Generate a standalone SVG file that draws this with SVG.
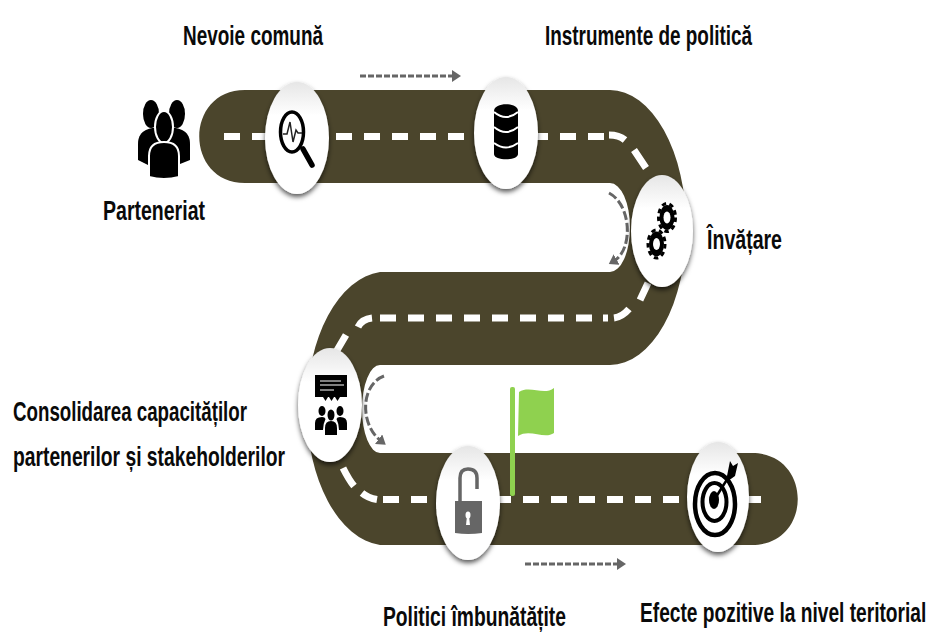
<svg xmlns="http://www.w3.org/2000/svg" width="929" height="633" viewBox="0 0 929 633">
<style>
.t{font-family:"Liberation Sans",Arial,sans-serif;font-weight:700;font-size:27px;fill:#0a0a0a}
.d{fill:none;stroke:#fff;stroke-width:7}
.a{fill:none;stroke:#666;stroke-width:3}
.k{fill:#000}
.b{fill:url(#n);filter:url(#s)}
</style>
<defs>
<linearGradient id="n" x1="0" y1="0" x2="0" y2="1"><stop offset="0" stop-color="#e6e6e6"/><stop offset=".3" stop-color="#fff"/><stop offset="1" stop-color="#fff"/></linearGradient>
<filter id="s" x="-30%" y="-20%" width="160%" height="140%"><feDropShadow dx="0" dy="3" stdDeviation="2.500" flood-color="#000" flood-opacity=".65"/></filter>
<marker id="h" markerWidth="4" markerHeight="4" refX="1" refY="2" orient="auto"><path d="M0 0L3 2L0 4Z" fill="#666"/></marker>
</defs>
<path id="road-surface" fill="#4b452c" d="M245 90H610A76 137 0 0 1 610 365H380A18 44 0 0 0 380 453H752C813 453 813 545 752 545H380A80 137 0 0 1 380 272H610A20 44.500 0 0 0 610 183H245C184 183 184 90 245 90Z"/>
<g id="connectors">
<path class="d" stroke-dasharray="16 12" d="M224 136.500H604"/>
<path class="d" d="M609 135Q619 135 625 140M634 150L646 168M648 283L640 300M629 309Q622 317 614 318M608 318H603"/>
<path class="d" stroke-dasharray="16 12" d="M380 318H592"/>
<path class="d" d="M372 318Q362 319 358 327M346 335L336 352M343 468Q349 480 354 486M362 493Q368 498 377 499.500"/>
<path class="d" stroke-dasharray="16 12" d="M383 499.500H761"/>
<path class="a" stroke-dasharray="6 2" marker-end="url(#h)" d="M360 76H455"/>
<path class="a" stroke-dasharray="6 2" marker-end="url(#h)" d="M525 564H620"/>
<path class="a" stroke-dasharray="9 3" marker-end="url(#h)" d="M609 193C632 205 633 250 614 261"/>
<path class="a" stroke-dasharray="9 3" marker-end="url(#h)" d="M384 376C360 385 360 425 381 441"/>
</g>
<g id="flag"><rect x="510" y="387" width="5" height="109" rx="2" fill="#8fd14f"/><path d="M519 392C530 385 544 396 554 388V433C544 440 530 428 518 436Z" fill="#8fd14f"/></g>
<g id="partnership" class="k">
<ellipse cx="151" cy="114" rx="8" ry="14"/><ellipse cx="177" cy="114" rx="8" ry="14"/>
<path d="M138 160V144C138 132 146 127 164 127C182 127 190 132 190 144V160L175 166H150Z"/>
<ellipse cx="164" cy="127" rx="9" ry="16" stroke="#fff" stroke-width="2"/>
<path d="M149 177V156C149 146 155 142 164 142C173 142 179 146 179 156V177Q164 181 149 177Z" stroke="#fff" stroke-width="2"/>
</g>
<g id="node-nevoie"><ellipse class="b" cx="297" cy="138" rx="32" ry="56"/>
<ellipse cx="292" cy="132" rx="11.500" ry="20" fill="none" stroke="#000" stroke-width="3.500"/>
<path d="M303 149L312 165" stroke="#000" stroke-width="5.500" stroke-linecap="round"/>
<path d="M283 134H287L290 122L293 142L296 130L298 133H302" fill="none" stroke="#222" stroke-width="1.500"/></g>
<g id="node-instrumente"><ellipse class="b" cx="506" cy="133" rx="32" ry="56"/>
<path class="k" d="M494 111C494 102 518 102 518 111V154C518 161 494 161 494 154Z"/>
<path d="M494 112Q506 122 518 112M494 127Q506 137 518 127M494 143Q506 152 518 143" fill="none" stroke="#fff" stroke-width="2"/></g>
<g id="node-invatare"><ellipse class="b" cx="662" cy="231" rx="31" ry="56"/>
<ellipse cx="667" cy="217.500" rx="8.500" ry="14" fill="none" stroke="#000" stroke-width="3" stroke-dasharray="4.500 3.500"/><ellipse cx="667" cy="217.500" rx="7.500" ry="12.500" class="k"/><ellipse cx="667" cy="217.500" rx="3.500" ry="6" fill="#fff"/>
<ellipse cx="656.500" cy="244" rx="8.500" ry="14" fill="none" stroke="#000" stroke-width="3" stroke-dasharray="4.500 3.500"/><ellipse cx="656.500" cy="244" rx="7.500" ry="12.500" class="k"/><ellipse cx="656.500" cy="244" rx="3.500" ry="6" fill="#fff"/></g>
<g id="node-consolidare"><ellipse class="b" cx="330" cy="405" rx="32" ry="57"/>
<rect x="315" y="375" width="32" height="22" class="k"/>
<path d="M320 381H341M320 385H344M320 390H334" stroke="#aaa" stroke-width="1.500"/>
<path class="k" d="M323 397h5l-2.500 4ZM329 397h5l-2.500 4ZM335 397h5l-2.500 4Z"/>
<ellipse cx="322" cy="411" rx="3.500" ry="5" class="k"/><ellipse cx="340" cy="411" rx="3.500" ry="5" class="k"/><ellipse cx="331" cy="415" rx="3.500" ry="5.500" class="k"/>
<path class="k" d="M315 430V423Q315 417 322 417Q325 417 325.500 419Q323 424 323 430ZM347 430V423Q347 417 340 417Q337 417 336.500 419Q339 424 339 430ZM325 435V428Q325 421 331 421Q337 421 337 428V435Z"/></g>
<g id="node-politici"><ellipse class="b" cx="468" cy="503" rx="32" ry="57"/>
<path d="M460 501V478Q460 469 468 469Q477 469 477 478V489" fill="none" stroke="#666" stroke-width="3.500"/>
<path d="M455 501H482V533Q468 535 455 533Z" fill="#666"/>
<ellipse cx="468" cy="515" rx="2.500" ry="3.500" fill="#fff"/><path d="M467 516H469L470 525H466Z" fill="#fff"/></g>
<g id="node-efecte"><ellipse class="b" cx="718" cy="497" rx="31" ry="55"/>
<ellipse cx="715" cy="504" rx="20" ry="31" fill="none" stroke="#000" stroke-width="4.500"/>
<ellipse cx="714.500" cy="502" rx="12" ry="19" fill="none" stroke="#000" stroke-width="4"/>
<ellipse cx="714" cy="500" rx="5" ry="9" class="k"/>
<path d="M716 497L733 470" stroke="#000" stroke-width="2.500"/>
<path class="k" d="M727 476L730 461L733 466L738 463L735 476L728 481Z"/></g>
<g id="labels">
<text class="t" x="183" y="45" textLength="140" lengthAdjust="spacingAndGlyphs">Nevoie comună</text>
<text class="t" x="545" y="45" textLength="207" lengthAdjust="spacingAndGlyphs">Instrumente de politică</text>
<text class="t" x="103" y="220" textLength="102" lengthAdjust="spacingAndGlyphs">Parteneriat</text>
<text class="t" x="707" y="249" textLength="75" lengthAdjust="spacingAndGlyphs">Învățare</text>
<text class="t" x="13" y="421" textLength="234" lengthAdjust="spacingAndGlyphs">Consolidarea capacităților</text>
<text class="t" x="13" y="466" textLength="272" lengthAdjust="spacingAndGlyphs">partenerilor și stakeholderilor</text>
<text class="t" x="383" y="626" textLength="183" lengthAdjust="spacingAndGlyphs">Politici îmbunătățite</text>
<text class="t" transform="translate(640 622) scale(.7 1)" textLength="409" lengthAdjust="spacingAndGlyphs">Efecte pozitive la nivel teritorial</text>
</g>
</svg>
